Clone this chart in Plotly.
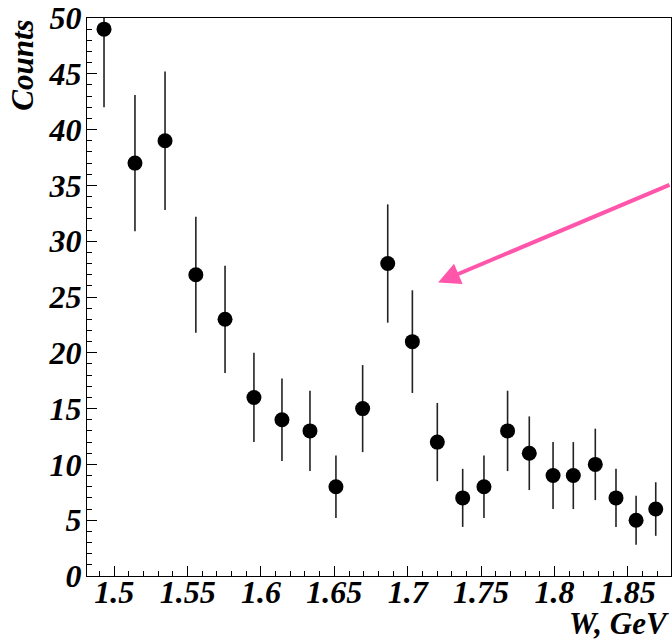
import plotly.graph_objects as go

# Data
w_values = [1.4930, 1.5141, 1.5346, 1.5556, 1.5755, 1.5952, 1.6143, 1.6334, 1.6511,
            1.6693, 1.6864, 1.7032, 1.7202, 1.7375, 1.7520, 1.7681, 1.7829, 1.7991,
            1.8129, 1.8279, 1.8420, 1.8557, 1.8691]
counts = [49, 37, 39, 27, 23, 16, 14, 13, 8, 15, 28, 21, 12, 7, 8, 13, 11, 9, 9, 10, 7, 5, 6]
errors = [7.0, 6.1, 6.2, 5.2, 4.8, 4.0, 3.7, 3.6, 2.8, 3.9, 5.3, 4.6, 3.5, 2.6, 2.8,
          3.6, 3.3, 3.0, 3.0, 3.2, 2.6, 2.2, 2.4]

x_tickvals = [1.5, 1.55, 1.6, 1.65, 1.7, 1.75, 1.8, 1.85]
x_ticktext = ["1.5", "1.55", "1.6", "1.65", "1.7", "1.75", "1.8", "1.85"]
y_tickvals = [0, 5, 10, 15, 20, 25, 30, 35, 40, 45, 50]
y_ticktext = ["0", "5", "10", "15", "20", "25", "30", "35", "40", "45", "50"]

x_range = [1.4814, 1.8795]
y_range = [0, 50]

arrow_tip = (1.7207, 26.3)
arrow_tail = (1.8795, 35.1)

FONT = "Liberation Serif"
tick_font = dict(family=FONT, size=32, color="black", weight="bold", style="italic")
title_font = dict(family=FONT, size=31, color="black", weight="bold", style="italic")

fig = go.Figure()
fig.add_trace(go.Scatter(
    x=w_values, y=counts, mode="markers",
    marker=dict(symbol="circle", size=15, color="black"),
    error_y=dict(type="data", array=errors, visible=True, width=0,
                 thickness=1.6, color="#222222"),
    showlegend=False,
))

axis_common = dict(
    showline=True, linecolor="black", linewidth=1.2, mirror=True,
    showgrid=False, zeroline=False, ticks="inside", ticklen=10, tickwidth=1.2,
    tickcolor="black", tickfont=tick_font, tickmode="array",
)

fig.update_xaxes(
    range=x_range, tickvals=x_tickvals, ticktext=x_ticktext, ticklabelstandoff=-13,
    minor=dict(ticks="inside", ticklen=5, tickwidth=1.2, tickcolor="black",
               tickmode="linear", tick0=1.5, dtick=0.01),
    **axis_common,
)
fig.update_yaxes(
    range=y_range, tickvals=y_tickvals, ticktext=y_ticktext, ticklabelstandoff=-2,
    minor=dict(ticks="inside", ticklen=5, tickwidth=1.2, tickcolor="black",
               tickmode="linear", tick0=0, dtick=1),
    **axis_common,
)

fig.add_annotation(
    x=arrow_tip[0], y=arrow_tip[1], ax=arrow_tail[0], ay=arrow_tail[1],
    xref="x", yref="y", axref="x", ayref="y", text="",
    showarrow=True, arrowhead=2, arrowsize=1.1, arrowwidth=4, arrowcolor="#ff55aa",
)

fig.add_annotation(
    text="Counts", textangle=-90, font=title_font, showarrow=False,
    xref="paper", yref="paper", x=-0.111, y=1.0, xanchor="center", yanchor="top",
)
fig.add_annotation(
    text="W, GeV", font=title_font, showarrow=False,
    xref="paper", yref="paper", x=1.0, y=-0.1205, xanchor="right", yanchor="bottom",
)

fig.update_layout(
    width=672, height=643,
    margin=dict(l=87, r=1, t=18, b=67),
    plot_bgcolor="white", paper_bgcolor="white",
)

fig.write_html("out.html")
